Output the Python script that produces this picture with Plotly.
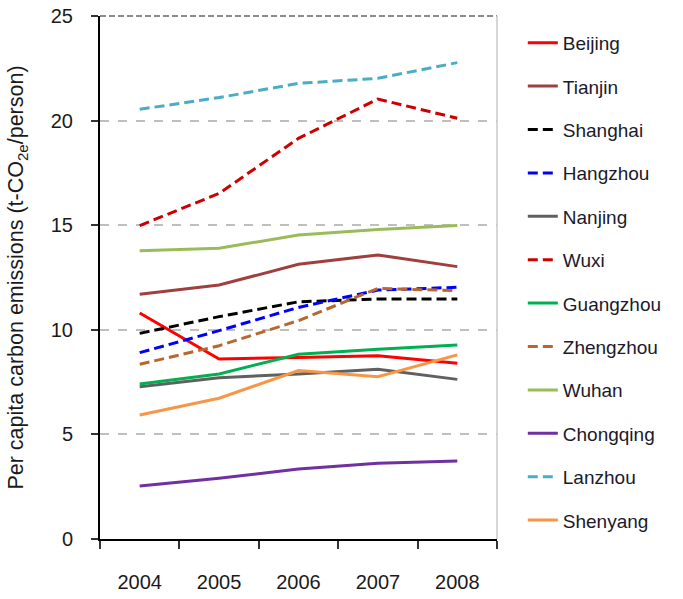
import plotly.graph_objects as go

years = ["2004", "2005", "2006", "2007", "2008"]

beijing = [10.8, 8.6, 8.68, 8.76, 8.4]
tianjin = [11.7, 12.14, 13.13, 13.58, 13.02]
shanghai = [9.83, 10.63, 11.34, 11.47, 11.47]
hangzhou = [8.91, 9.96, 11.07, 11.9, 12.03]
nanjing = [7.28, 7.71, 7.89, 8.11, 7.63]
wuxi = [14.98, 16.52, 19.15, 21.03, 20.11]
guangzhou = [7.41, 7.89, 8.83, 9.07, 9.27]
zhengzhou = [8.35, 9.24, 10.44, 11.98, 11.87]
wuhan = [13.78, 13.9, 14.53, 14.8, 14.98]
chongqing = [2.53, 2.9, 3.35, 3.62, 3.73]
lanzhou = [20.54, 21.1, 21.78, 22.02, 22.77]
shenyang = [5.93, 6.73, 8.05, 7.76, 8.8]

cities = ["Beijing", "Tianjin", "Shanghai", "Hangzhou", "Nanjing", "Wuxi",
          "Guangzhou", "Zhengzhou", "Wuhan", "Chongqing", "Lanzhou", "Shenyang"]
values = [beijing, tianjin, shanghai, hangzhou, nanjing, wuxi,
          guangzhou, zhengzhou, wuhan, chongqing, lanzhou, shenyang]
colors = ["#FF0000", "#A0403E", "#000000", "#0000FF", "#606060", "#CC0000",
          "#00B050", "#B8672E", "#9BBB59", "#7030A0", "#4BACC6", "#F79646"]
dashes = ["solid", "solid", "10px,5px", "10px,5px", "solid", "10px,5px",
          "solid", "10px,5px", "solid", "solid", "10px,5px", "solid"]

fig = go.Figure()
for name, vals, col, dash in zip(cities, values, colors, dashes):
    fig.add_trace(go.Scatter(
        x=years, y=vals, name=name, mode="lines", legendgroup=name,
        line=dict(color=col, width=3, dash=dash),
    ))

fig.update_layout(
    width=683, height=599,
    margin=dict(l=100, r=186, t=16, b=60, autoexpand=False),
    plot_bgcolor="white", paper_bgcolor="white",
    font=dict(family="Liberation Sans, Arial, sans-serif", color="#1a1a1a"),
    showlegend=True,
    legend=dict(
        x=1.065, xanchor="left", y=0.985, yanchor="top",
        font=dict(size=19, color="#1a1a2a"),
        traceorder="grouped", tracegroupgap=15.7, maxheight=599,
        bgcolor="rgba(0,0,0,0)",
    ),
    xaxis=dict(
        type="category", range=[-0.5, 4.5], tickson="boundaries",
        showline=True, linecolor="black", linewidth=2,
        ticks="outside", ticklen=8, tickwidth=2, tickcolor="#333",
        tickfont=dict(size=20), ticklabelstandoff=24,
        showgrid=False, zeroline=False,
    ),
    yaxis=dict(
        range=[0, 25], tickvals=[0, 5, 10, 15, 20, 25],
        showline=True, linecolor="black", linewidth=2,
        ticks="outside", ticklen=7, tickwidth=2, tickcolor="#333",
        tickfont=dict(size=20), ticklabelstandoff=14,
        showgrid=True, gridcolor="#BFBFBF", griddash="dash", gridwidth=1.5,
        zeroline=False,
        title=dict(text="Per capita carbon emissions (t-CO<sub>2e</sub>/person)",
                   font=dict(size=21.5), standoff=21),
    ),
    shapes=[
        dict(type="line", xref="paper", yref="paper", x0=0, x1=1, y0=1, y1=1,
             line=dict(color="#8C8C8C", width=2, dash="6px,3px")),
        dict(type="line", xref="paper", yref="paper", x0=1, x1=1, y0=0, y1=1,
             line=dict(color="#C8C8C8", width=1.5)),
    ],
)

fig.write_html("out.html")
